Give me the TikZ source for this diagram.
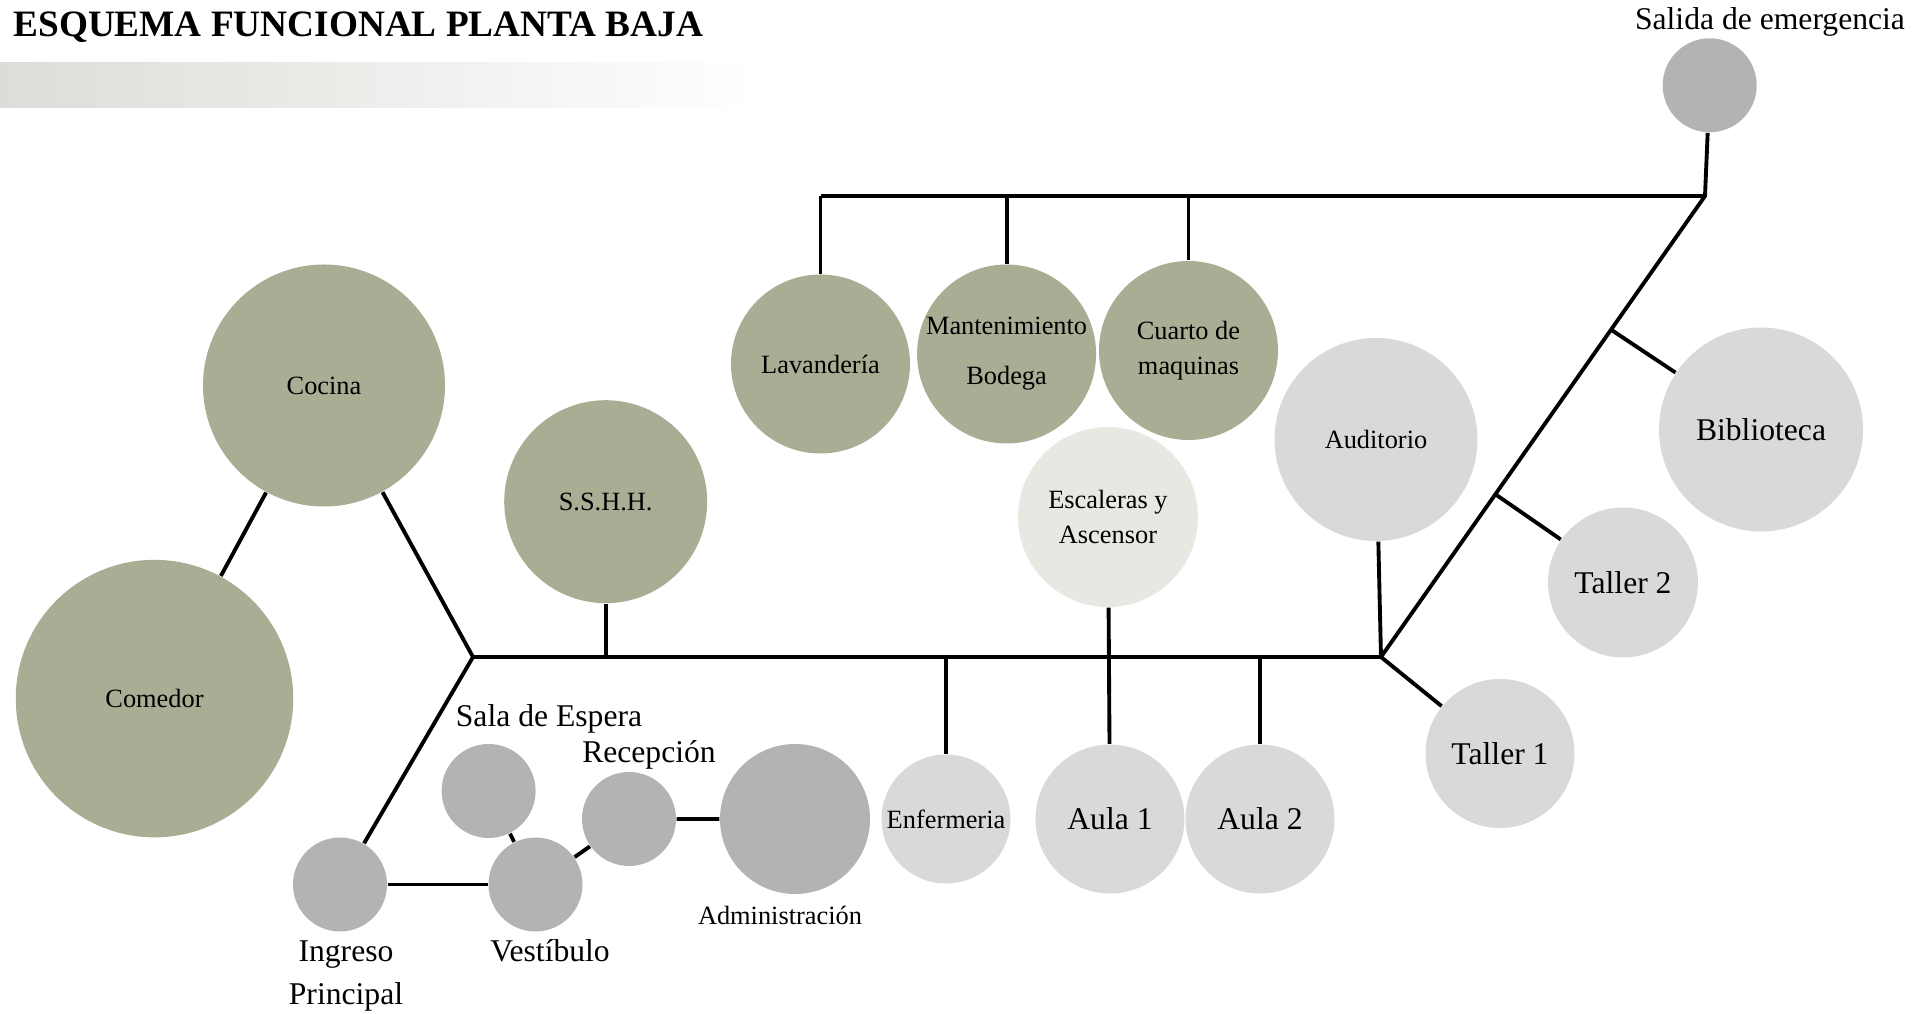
\documentclass[tikz,border=0pt]{standalone}
\usepackage{fontspec}
\setmainfont{Liberation Serif}
\usetikzlibrary{positioning,calc}
\definecolor{RoomOlive}{RGB}{169,173,148}
\definecolor{RoomGray}{RGB}{179,179,179}
\definecolor{RoomLight}{RGB}{217,217,217}
\definecolor{RoomCream}{RGB}{232,232,227}
\definecolor{BarGray}{RGB}{220,220,216}
\tikzset{
  room/.style={circle,inner sep=0pt,align=center,font=\fontsize{7.5}{10}\selectfont},
  roomlg/.style={room,font=\fontsize{9}{12}\selectfont},
  link/.style={draw=black,line width=1.1pt},
}
\tikzset{lab/.style={inner sep=0pt,anchor=base,font=\fontsize{9}{12}\selectfont}}

\begin{document}
\begin{tikzpicture}
\useasboundingbox (0,0) rectangle (19.30,-10.14);
% title and bar
\shade[left color=BarGray,right color=white] (0,-0.627) rectangle (7.57,-1.077);
\node[anchor=base west,inner sep=0pt,font=\fontsize{10.6}{12}\selectfont\bfseries] (title) at (0.128,-0.37) {ESQUEMA FUNCIONAL PLANTA BAJA};
% rooms
\node[room,fill=RoomGray,minimum size=0.94cm] (sal) at (17.097,-0.853) {};
\node[room,fill=RoomOlive,minimum size=1.79cm] (lav) at (8.205,-3.64) {Lavandería};
\node[room,fill=RoomOlive,minimum size=1.79cm] (mant) at (10.066,-3.54) {Mantenimiento\\[4.2pt]Bodega};
\node[room,fill=RoomOlive,minimum size=1.79cm] (cuarto) at (11.885,-3.505) {Cuarto de\\maquinas};
\node[room,fill=RoomOlive,minimum size=2.42cm] (cocina) at (3.24,-3.855) {Cocina};
\node[room,fill=RoomOlive,minimum size=2.775cm] (comedor) at (1.545,-6.986) {Comedor};
\node[room,fill=RoomOlive,minimum size=2.03cm] (sshh) at (6.057,-5.017) {S.S.H.H.};
\node[room,fill=RoomCream,minimum size=1.80cm] (esc) at (11.08,-5.17) {Escaleras y\\Ascensor};
\node[room,fill=RoomLight,minimum size=2.03cm] (aud) at (13.76,-4.395) {Auditorio};
\node[roomlg,fill=RoomLight,minimum size=2.04cm] (bib) at (17.61,-4.295) {Biblioteca};
\node[roomlg,fill=RoomLight,minimum size=1.50cm] (t2) at (16.23,-5.825) {Taller 2};
\node[roomlg,fill=RoomLight,minimum size=1.49cm] (t1) at (15.00,-7.535) {Taller 1};
\node[roomlg,fill=RoomLight,minimum size=1.49cm] (aula1) at (11.10,-8.19) {Aula 1};
\node[roomlg,fill=RoomLight,minimum size=1.49cm] (aula2) at (12.60,-8.19) {Aula 2};
\node[room,fill=RoomLight,minimum size=1.29cm] (enf) at (9.46,-8.19) {Enfermeria};
\node[room,fill=RoomGray,minimum size=1.50cm] (adm) at (7.95,-8.19) {};
\node[room,fill=RoomGray,minimum size=0.94cm] (rec) at (6.29,-8.19) {};
\node[room,fill=RoomGray,minimum size=0.94cm] (sala) at (4.886,-7.91) {};
\node[room,fill=RoomGray,minimum size=0.94cm] (vest) at (5.355,-8.845) {};
\node[room,fill=RoomGray,minimum size=0.94cm] (ing) at (3.40,-8.845) {};
% labels outside
\node[lab] (salT) at (17.70,-0.30) {Salida de emergencia};
\node[lab] (salaT) at (5.49,-7.27) {Sala de Espera};
\node[lab] (recT) at (6.49,-7.63) {Recepción};
\node[lab,font=\fontsize{7.5}{10}\selectfont] (admT) at (7.80,-9.25) {Administración};
\node[lab] (vestT) at (5.50,-9.617) {Vestíbulo};
\node[lab,anchor=north,align=center,font=\fontsize{9}{12.3}\selectfont] (ingT) at (3.46,-9.40) {Ingreso\\Principal};
% circulation
\coordinate (jl) at (4.73,-6.57);
\coordinate (jr) at (13.81,-6.57);
\coordinate (tr) at (17.05,-1.96);
\draw[link] (jl) -- (jr);
\draw[link] (cocina) -- (comedor);
\draw[link] (cocina) -- (jl) -- (ing);
\draw[link] (sshh) -- (sshh |- jl);
\draw[link] (enf) -- (enf |- jl);
\draw[link] (esc) -- (aula1);
\draw[link] (aula2) -- (aula2 |- jl);
\draw[link] (aud) -- (jr) -- (t1);
\draw[link] (jr) -- (tr) -- (sal);
\draw[link] (lav |- tr) -- (tr);
\draw[link] (lav) -- (lav |- tr);
\draw[link] (mant) -- (mant |- tr);
\draw[link] (cuarto) -- (cuarto |- tr);
\draw[link] ($(tr)!0.29!(jr)$) -- (bib);
\draw[link] ($(tr)!0.647!(jr)$) -- (t2);
\draw[link] (ing) -- (vest);
\draw[link] (sala) -- (vest);
\draw[link] (vest) -- (rec) -- (adm);
\end{tikzpicture}
\end{document}
